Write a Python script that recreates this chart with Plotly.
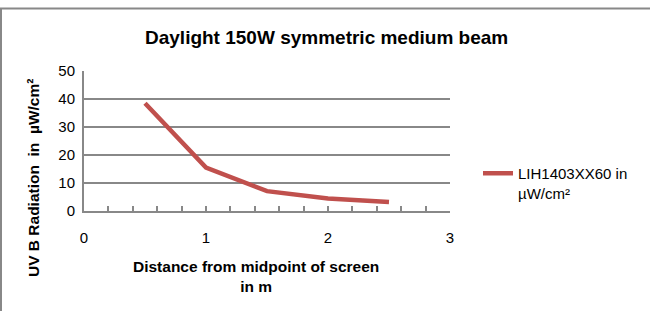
import plotly.graph_objects as go

distance_m = [0.5, 1.0, 1.5, 2.0, 2.5]
uvb_values = [38.5, 15.5, 7.1, 4.5, 3.2]
series_name = "LIH1403XX60 in<br>µW/cm²"
x_tick_vals = [0, 1, 2, 3]
y_tick_vals = [0, 10, 20, 30, 40, 50]
title_text = "Daylight 150W symmetric medium beam"
x_title = "Distance from midpoint of screen<br>in m"
y_title = "UV B Radiation  in  µW/cm²"

W, H = 650, 311
L, R, T, B = 84, 200, 71, 100
pw, ph = W - L - R, H - T - B

def px(p):
    return (p - L) / pw

def py(p):
    return (H - B - p) / ph

font = "Liberation Sans"
grid = "#888888"

fig = go.Figure()
fig.add_trace(go.Scatter(
    x=distance_m, y=uvb_values, mode="lines", name=series_name,
    line=dict(color="#C0504D", width=4.5),
))

fig.update_layout(
    width=W, height=H, autosize=False,
    margin=dict(l=L, r=R, t=T, b=B),
    paper_bgcolor="white", plot_bgcolor="white",
    font=dict(family=font, size=15, color="#000000"),
    showlegend=True,
    legend=dict(x=px(478), y=py(157), xanchor="left", yanchor="top",
                valign="top", font=dict(family=font, size=15, color="#000"),
                itemwidth=30, bgcolor="rgba(0,0,0,0)", tracegroupgap=0),
    xaxis=dict(range=[0, 3], tickvals=x_tick_vals, ticks="inside", ticklen=5,
               tickcolor=grid, tickwidth=1.5, showgrid=False, zeroline=False,
               showline=True, linecolor=grid, linewidth=2,
               ticklabelstandoff=12, tickfont=dict(size=15),
               minor=dict(dtick=0.2, tick0=0, ticks="inside", ticklen=5,
                          tickcolor=grid, tickwidth=1.5, showgrid=False)),
    yaxis=dict(range=[0, 50], tickvals=y_tick_vals, ticks="", showgrid=True,
               gridcolor=grid, gridwidth=2, zeroline=False, showline=True,
               linecolor=grid, linewidth=2, ticklabelstandoff=4,
               tickfont=dict(size=15)),
)

fig.add_annotation(text="<b>" + title_text + "</b>", xref="paper", yref="paper",
                   x=px(326), y=py(38), xanchor="center", yanchor="middle",
                   showarrow=False, font=dict(family=font, size=19, color="#000"))
fig.add_annotation(text="<b>" + x_title + "</b>", xref="paper", yref="paper",
                   x=px(256), y=py(276), xanchor="center", yanchor="middle",
                   showarrow=False, font=dict(family=font, size=15.5, color="#000"))
fig.add_annotation(text="<b>" + y_title + "</b>", xref="paper", yref="paper",
                   x=px(33), y=py(178), xanchor="center", yanchor="middle",
                   showarrow=False, textangle=-90,
                   font=dict(family=font, size=15.5, color="#000"))

fig.add_shape(type="line", xref="paper", yref="paper",
              x0=px(0), x1=px(W + 5), y0=py(8.5), y1=py(8.5),
              line=dict(color=grid, width=2))
fig.add_shape(type="line", xref="paper", yref="paper",
              x0=px(1), x1=px(1), y0=py(8.5), y1=py(H + 5),
              line=dict(color=grid, width=2))

fig.write_html("out.html", config={"displayModeBar": False},
               post_script="document.body.style.margin='0';")
